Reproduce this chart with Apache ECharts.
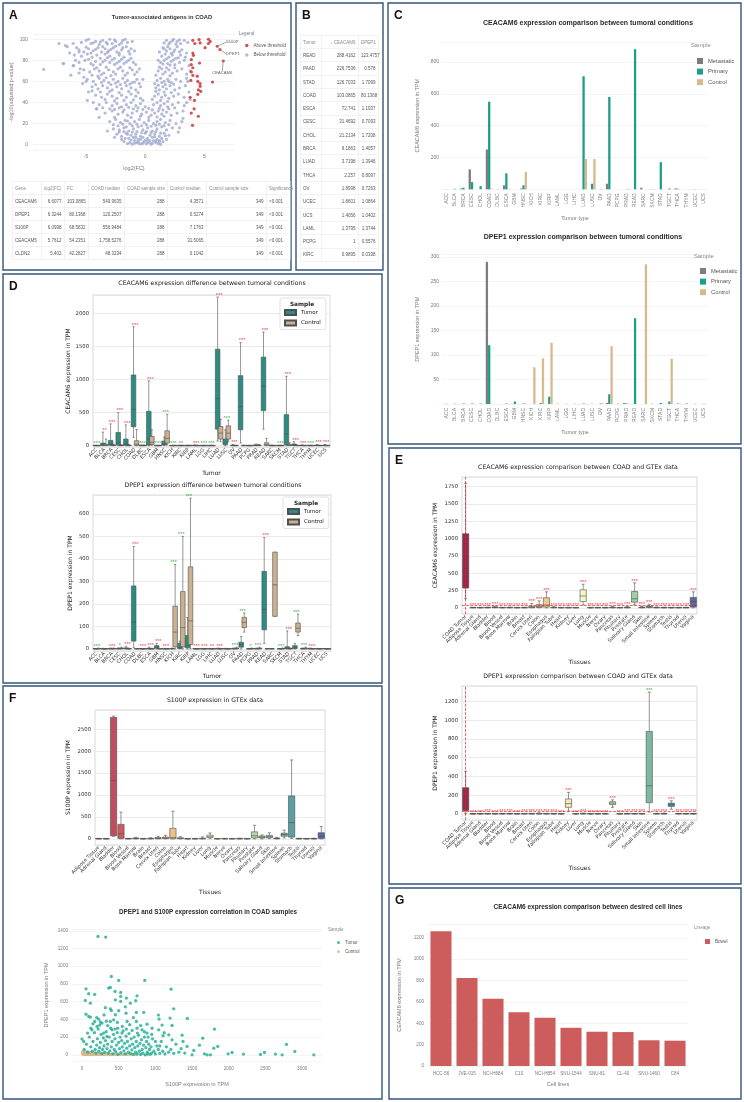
<!DOCTYPE html>
<html><head><meta charset="utf-8"><title>COAD antigens</title>
<script src="https://cdn.jsdelivr.net/npm/echarts@6/dist/echarts.min.js"></script>
<style>
html,body{margin:0;padding:0;background:#fff}
#wrap{position:relative;width:744px;height:1102px;overflow:hidden;background:#fff}
#chart{position:absolute;left:0;top:0;width:744px;height:1102px}
.tbl{position:absolute;border-collapse:collapse;font-family:"Liberation Sans",Arial,sans-serif;color:#555;table-layout:fixed;transform:scale(0.5);transform-origin:0 0;font-size:9px;z-index:5}
.tbl td,.tbl th{border:1px solid #e4e4e4;font-weight:normal;white-space:nowrap;overflow:visible;padding:0 5px;height:24px;box-sizing:border-box}
.tbl th{color:#8a8a8a;text-align:left}
.tbl td.n{text-align:right}
</style></head>
<body><div id="wrap"><div id="chart"></div><table id="tA" class="tbl"></table><table id="tB" class="tbl"></table></div>
<script>
// ---------------- DATA ----------------
const tableAHeader = ['Gene','log2(FC)','FC','COAD median','COAD sample size','Control median','Control sample size','Significance'];
const tableARows = [
 ['CEACAM6','6.6077','103.0865','549.9635','288','4.3571','349','<0.001'],
 ['DPEP1','6.3244','80.1368','120.2507','288','0.5274','349','<0.001'],
 ['S100P','6.0998','68.5832','556.9484','288','7.1763','349','<0.001'],
 ['CEACAM5','5.7612','54.2351','1,758.5276','288','31.5065','349','<0.001'],
 ['CLDN2','5.402','42.2827','48.3234','288','0.1042','349','<0.001']];
const tableBHeader = ['Tumor','\u2193 CEACAM6','DPEP1'];
const tableBRows = [
 ['READ','288.4162','123.4757'],['PAAD','226.7536','0.578'],['STAD','126.7033','1.7099'],['COAD','103.0865','80.1368'],
 ['ESCA','72.741','1.1937'],['CESC','31.4692','0.7093'],['CHOL','21.2134','1.7208'],['BRCA','9.1863','1.4057'],
 ['LUAD','3.7198','1.3946'],['THCA','2.257','0.8097'],['OV','1.8998','0.7263'],['UCEC','1.8601','1.0864'],
 ['UCS','1.4056','1.0402'],['LAML','1.3795','1.3744'],['PCPG','1','0.5576'],['KIRC','0.9895','0.0338']];

// Volcano (log2FC, -log10 adj p)
const volcanoBelow = [
[-5.4,97],[-5.0,99],[-4.6,96],[-4.2,98],[-3.9,95],[-3.6,99],[-3.3,97],[-3.0,100],[-2.8,96],[-2.5,98],[-2.2,95],[-1.9,99],[-1.5,97],[1.8,99],[2.1,97],[2.4,100],[2.7,98],[3.0,96],[3.3,99],[3.6,97],[-6.1,96],[-5.8,92],
[-5.6,90],[-5.2,88],[-4.8,91],[-4.4,89],[-4.0,92],[-3.7,88],[-3.4,91],[-3.1,89],[-2.7,92],[-2.4,88],[-2.0,90],[-1.6,93],[-1.2,91],[1.5,92],[1.8,89],[2.1,91],[2.4,88],[2.7,93],[3.1,90],[3.5,87],[-6.6,93],
[-5.4,84],[-4.9,86],[-4.5,83],[-4.1,85],[-3.8,82],[-3.4,86],[-3.0,84],[-2.6,82],[-2.2,85],[-1.8,83],[-1.3,86],[1.4,84],[1.7,86],[2.0,83],[2.3,85],[2.6,82],[3.0,85],[3.4,83],[-6.0,85],
[-5.6,78],[-5.1,80],[-4.6,77],[-4.2,79],[-3.8,76],[-3.4,80],[-3.0,78],[-2.6,76],[-2.2,79],[-1.8,77],[-1.4,80],[-1.0,78],[1.3,78],[1.6,80],[1.9,77],[2.2,79],[2.5,76],[2.9,78],[3.3,80],[3.7,75],[-6.9,77],[-6.1,75],
[-5.2,71],[-4.7,69],[-4.3,72],[-3.9,70],[-3.5,68],[-3.1,71],[-2.7,69],[-2.3,72],[-1.9,70],[-1.5,68],[-1.1,71],[-0.7,69],[1.1,70],[1.4,72],[1.7,69],[2.0,71],[2.3,68],[2.7,70],[3.1,72],[3.5,67],[-5.6,68],[-4.0,65],
[-4.9,62],[-4.4,60],[-3.9,63],[-3.5,61],[-3.1,59],[-2.7,62],[-2.3,60],[-1.9,63],[-1.5,61],[-1.1,59],[-0.7,62],[1.0,61],[1.3,63],[1.6,60],[1.9,62],[2.2,59],[2.6,62],[3.0,60],[3.5,63],[-5.3,58],
[-4.5,55],[-4.0,53],[-3.6,56],[-3.2,54],[-2.8,52],[-2.4,55],[-2.0,53],[-1.6,56],[-1.2,54],[-0.8,52],[-0.4,55],[0.9,54],[1.2,52],[1.5,55],[1.8,53],[2.1,56],[2.5,52],[2.9,54],[3.4,56],[-4.5,51],
[-4.2,47],[-3.7,45],[-3.2,48],[-2.8,46],[-2.4,44],[-2.0,47],[-1.6,45],[-1.2,48],[-0.8,46],[-0.4,44],[0.8,46],[1.1,48],[1.4,45],[1.7,47],[2.0,44],[2.4,46],[2.8,48],[3.3,45],[3.8,43],
[-3.9,38],[-3.3,40],[-2.8,37],[-2.4,39],[-2.0,36],[-1.6,38],[-1.2,40],[-0.8,37],[-0.4,39],[0.0,36],[0.7,38],[1.0,40],[1.3,37],[1.6,39],[1.9,36],[2.3,38],[2.8,40],[3.3,37],[-4.1,34],
[-3.4,30],[-2.8,32],[-2.3,29],[-1.9,31],[-1.5,28],[-1.1,30],[-0.7,32],[-0.3,29],[0.1,31],[0.5,28],[0.8,30],[1.1,32],[1.4,29],[1.8,31],[2.2,28],[2.7,30],[3.2,32],[-2.6,26],
[-3.0,22],[-2.5,24],[-2.1,21],[-1.7,23],[-1.3,20],[-0.9,22],[-0.5,24],[-0.1,21],[0.3,23],[0.7,20],[1.0,22],[1.3,24],[1.7,21],[2.1,23],[2.6,20],[3.1,22],[-2.3,18],[-1.6,17],
[-2.7,15],[-2.2,14],[-1.8,16],[-1.4,13],[-1.0,15],[-0.6,17],[-0.2,14],[0.2,16],[0.6,13],[1.0,15],[1.4,17],[1.8,14],[2.3,16],[-3.2,13],[2.8,12],
[-2.4,10],[-2.0,8],[-1.6,11],[-1.2,9],[-0.8,10],[-0.4,8],[0.0,11],[0.4,9],[0.8,10],[1.2,8],[1.6,11],[2.0,9],[-1.4,6],[-1.0,7],[-0.6,5],[-0.2,7],[0.2,6],[0.6,7],[1.0,5],[1.4,6],
[-1.8,3],[-1.3,2],[-0.9,4],[-0.5,1],[-0.1,3],[0.3,2],[0.7,4],[1.1,1],[1.5,3],[-1.1,0.5],[-0.3,0.8],[0.5,0.5],[1.3,0.3],[-0.7,2],[0.1,1],[0.9,2],
[-8.6,71.5],[-6.76,94],[-6.96,77],[-6.06,75],[-5.6,88],[-4.14,34],[-4.9,42],[-5.2,64],
[-4.8,100],[-4.4,96.5],[-3.8,97.5],[-3.2,95.5],[-2.6,99.5],[-2.0,96.5],[-1.7,100],[-1.1,98],[2.0,95.5],[2.3,98.5],[2.6,95.5],[2.9,99.5],[1.6,96.5],
[-5.0,92.5],[-4.6,87],[-4.2,90.5],[-3.6,93],[-3.2,87.5],[-2.9,90.5],[-2.5,93.5],[-2.2,87],[-1.9,92],[-1.4,88.5],[-0.9,89],[1.2,88],[1.6,91],[1.9,93],[2.2,86.5],[2.5,90],[2.9,88],
[-4.8,81],[-4.4,75.5],[-3.6,78.5],[-3.2,82.5],[-2.8,80.5],[-2.4,77.5],[-2.0,81],[-1.6,78.5],[-1.2,82],[-0.8,76],[1.1,80],[1.5,76.5],[1.8,81.5],[2.1,75.5],[2.4,80.5],[2.8,82.5],
[-4.5,66],[-4.1,73],[-3.7,66.5],[-3.3,73.5],[-2.9,65.5],[-2.5,67],[-2.1,73.5],[-1.7,66],[-1.3,73],[-0.9,66.5],[-0.5,72],[0.9,66],[1.2,73.5],[1.5,67],[1.8,73],[2.1,65.5],[2.5,73],
[-4.2,57],[-3.7,59],[-3.3,63.5],[-2.9,57],[-2.5,58.5],[-2.1,57],[-1.7,59],[-1.3,57.5],[-0.9,59.5],[-0.5,58],[-0.2,62],[0.8,58],[1.1,56.5],[1.4,59],[1.7,57],[2.0,60],[2.4,57.5],
[-3.8,50],[-3.4,43],[-3.0,50.5],[-2.6,41.5],[-2.2,49.5],[-1.8,42],[-1.4,50.5],[-1.0,42.5],[-0.6,49.5],[-0.2,42],[0.6,43],[0.9,50.5],[1.3,42],[1.6,50],[1.9,41],[2.2,49.5],
[-3.6,35],[-3.0,34],[-2.6,33.5],[-2.2,35],[-1.8,33],[-1.4,35.5],[-1.0,34],[-0.6,35],[-0.2,33.5],[0.3,34.5],[0.6,33],[1.2,34.5],[1.5,33],[2.0,34],[2.5,35],[-1.2,26],[-0.4,27],[0.3,26],[1.0,26.5],[1.6,27],
[-2.7,19],[-1.9,19.5],[-1.5,22.5],[-1.1,18],[-0.7,19.5],[-0.3,18],[0.1,19],[0.5,17.5],[0.9,18.5],[1.2,19.5],[1.6,18],[2.0,19],
[-2.2,12],[-1.8,12.5],[-1.5,10],[-1.1,12],[-0.7,12.5],[-0.3,11.5],[0.1,12.5],[0.5,11.5],[0.9,12.5],[1.3,11],[1.7,8.5],[-1.7,6],[-1.2,4.5],[-0.8,7],[-0.4,5],[0,4.5],[0.4,4],[0.8,7.5],[1.2,4],[-1.5,1],[-0.9,1.5],[-0.6,3],[-0.2,1.5],[0.2,3.5],[0.6,1.5],[0.9,3.5],[1.2,2.5],[-2.0,5],[1.8,5],[-2.6,7],
[-6.4,87],[-5.9,80],[-5.5,72],[-5.0,60],[-4.8,50],[-4.4,40],[-3.9,26],[3.6,60],[3.7,50],[3.5,40],[3.2,25],[2.9,16],[3.8,70],[-7.3,96],[-6.3,66]];
const volcanoAbove = [
[4.03,99],[4.56,99.7],[4.65,96.5],[5.35,100],[5.35,96],[5.07,92],[4.2,96],[4.03,87],[4.08,84.8],[3.9,80.7],[4.6,77.5],[3.9,76],[4.03,73],[3.9,69],[4.03,65.8],[4.4,65],
[3.86,61],[4.45,60],[5.7,59.5],[4.65,58],[4.65,55.4],[4.5,52],[4.7,50.6],[4.45,47.8],[4.17,42],[4.14,34],[4.5,27],[3.9,30],[4.0,18.4],[3.8,45],[5.5,98]];
const volcanoLabeled = [['S100P',6.0998,93.4],['DPEP1',6.3244,90.2],['CEACAM6',6.6077,79.4]];

// Panel C / D tumour types
const tumors = ['ACC','BLCA','BRCA','CESC','CHOL','COAD','DLBC','ESCA','GBM','HNSC','KICH','KIRC','KIRP','LAML','LGG','LIHC','LUAD','LUSC','OV','PAAD','PCPG','PRAD','READ','SARC','SKCM','STAD','TGCT','THCA','THYM','UCEC','UCS'];
const cCeacamMetastatic = [0,0,5,125,0,250,0,25,0,5,0,0,0,0,0,0,0,0,0,35,0,0,0,10,1,0,0,6,0,0,0];
const cCeacamPrimary    = [0.5,3,10,45,20,550,1,100,0,25,0,0,0,0,0,0,710,35,2,580,0,1,880,0,1,170,5,3,0,1,0.5];
const cCeacamControl    = [0,0,0,0,0,4,0,3,0,110,0,0,0,0,0,0,190,190,0,0,0,3,0,0,0,0,0,0,0,0,0];
const cDpepMetastatic   = [0,0,0,0,0,290,0,0,0,0,0,0,0,0,0,0,0,0,0,2,0,2,0,0,0,0,0,0,0,0,0];
const cDpepPrimary      = [0.5,0.5,1,1,1,120,0,1,5,1,0,2,15,0.5,0.5,0.5,1,0.5,1,20,0.5,1,175,0,0.5,2,5,1,1,0.5,0.5];
const cDpepControl      = [0,0,0.5,0.5,0,0.5,0,0.5,0,0.5,75,93,125,0,0,0,0.5,0,1,118,0,0.5,0,285,0,0.5,92,0.5,0,0,0];

// Panel D boxplots [min, q1, median, q3, max]
const dCeacamTumor = [[0,0.5,1,2,5],[0,3,12,40,205],[0,8,25,80,330],[0,12,45,200,500],[0,6,30,100,315],[125,285,550,1070,1800],[0,1,2,4,8],[0,10,100,520,980],[0,0.3,1,2,4],[0,10,25,70,130],
 [0,0.3,0.5,1,2],[0,0.5,1,2,4],[0,0.5,1,3,6],[0,1,2,5,12],[0,0.2,0.5,1,2],[0,0.3,0.8,2,4],[70,250,710,1460,2250],[0,15,40,100,240],[0,1,3,8,18],[40,240,590,1060,1560],
 [0,0.2,0.5,1,2],[0,2,5,12,25],[250,530,900,1340,1720],[0,0.5,1,3,8],[0,0.3,1,2,5],[0,15,180,470,1050],[0,3,10,25,60],[0,1,2,5,12],[0,0.5,1,2,5],[0,1,3,8,18],[0,1,3,8,18]];
const dCeacamControl = [[0,0.3,0.5,1,2],[0,3,8,20,100],[0,2,5,10,22],[0,1,3,8,15],[0,1,3,8,15],[0,5,20,75,245],[0,1,2,5,10],[5,20,50,140,240],[0,0.5,1,2,4],[10,40,110,225,475],
 [0,0.5,1,2,4],[0,0.5,1,2,4],[0,0.5,1,2,4],[0,0.2,0.5,1,2],[0,0.3,0.6,1,2],[0,0.3,0.6,1,2],[60,100,190,290,400],[60,100,190,300,385],[0,0.5,1,2,4],[0,0.5,1,3,6],
 [0,0.3,0.6,1,2],[0,2,5,10,20],[0,5,15,45,110],[0,0.5,1,2,4],[0,0.5,1,2,4],[0,3,8,20,45],[0,1,2,4,8],[0,0.5,1,2,4],[0,0.5,1,2,4],[0,0.5,1,2,4],[0,0.5,1,2,4]];
const dCeacamSig = ['***','**','***','***','***','***','***','***','***','***','***','**','','***','***','***','***','***','***','***','','','***','','***','***','***','***','***','***','***'];
const dCeacamSigColor = ['g','r','r','r','r','r','g','r','g','g','g','g','','r','g','g','r','g','r','r','','','r','','g','r','r','r','g','r','r'];

const dDpepTumor = [[0,0.2,0.5,1,2],[0,0.3,0.6,1.2,3],[0,0.5,1,2,4],[0,0.5,1,2,5],[0,1,2,5,12],[5,35,120,280,455],[0,0.2,0.4,0.8,2],[0,0.5,1,3,8],[0,3,8,15,25],[0,0.3,0.6,1.2,3],
 [0,0.5,1,2,4],[0,2,6,25,35],[0,5,15,60,140],[0,0.2,0.4,0.8,2],[0,0.1,0.3,0.6,1.5],[0,0.2,0.5,1,2],[0,0.5,1,2,4],[0,0.3,0.6,1.2,3],[0,0.5,1,2,4],[0,8,20,30,55],
 [0,0.2,0.5,1,2],[0,0.5,1,2,4],[25,85,175,345,495],[0,0.3,0.6,1,2],[0,0.3,0.6,1,2],[0,1,3,10,80],[0,2,5,15,25],[0,0.5,1,2,4],[0,0.5,1,2,4],[0,0.3,0.6,1,2],[0,0.3,0.6,1,2]];
const dDpepControl = [[0,0.5,1,2,4],[0,0.2,0.4,0.8,2],[0,0.5,1,2,4],[0,1,2,4,8],[0,0.3,0.6,1.2,3],[0,0.2,0.5,1,2],[0,0.2,0.4,0.8,2],[0,0.3,0.6,1.2,3],[0,0.2,0.4,0.8,2],[0,0.2,0.4,0.8,2],
 [0,10,75,190,375],[0,10,95,255,500],[0,20,125,365,670],[0,0.2,0.4,0.8,2],[0,0.2,0.4,0.8,2],[0,0.2,0.4,0.8,2],[0,0.2,0.4,0.8,2],[0,0.2,0.4,0.8,2],[0,1,2,4,8],[75,95,118,140,160],
 [0,0.5,1,2,4],[0,1,2,4,8],[0,0.2,0.5,1,2],[145,145,285,430,430],[0,0.5,1,2,4],[0,0.5,1,2,4],[60,75,92,115,155],[0,1,2,4,8],[0,0.2,0.4,0.8,2],[0,0.2,0.4,0.8,2],[0,0.2,0.4,0.8,2]];
const dDpepSig = ['***','','***','*','***','***','***','***','***','***','***','***','***','***','***','**','***','','***','***','*','***','***','','***','***','***','***','***','',''];
const dDpepSigColor = ['g','','r','g','r','r','r','r','r','r','g','g','g','r','r','r','r','','g','g','g','g','r','','g','r','g','g','r','',''];

// Panel E / F tissues
const tissuesE = ['COAD Tumor','Adipose Tissue','Adrenal Gland','Bladder','Blood','Blood Vessel','Bone Marrow','Brain','Breast','Cervix Uteri','Colon','Esophagus','Fallopian Tube','Heart','Kidney','Liver','Lung','Muscle','Nerve','Ovary','Pancreas','Pituitary','Prostate','Salivary Gland','Skin','Small Intestine','Spleen','Stomach','Testis','Thyroid','Uterus','Vagina'];
const eCeacam = [[130,285,550,1070,1800],[0,0.5,1,2,4],[0,0.3,0.5,1,2],[0,1,2,4,8],[0,2,6,12,25],[0,0.5,1,2,4],[0,1,2,4,8],[0,0.2,0.5,1,2],[0,0.5,1,3,6],[0,2,8,20,60],
 [0,5,15,45,100],[0,10,40,145,230],[0,1,3,8,15],[0,0.2,0.5,1,2],[0,0.3,0.5,1,2],[0,0.2,0.5,1,2],[40,90,170,260,340],[0,0.1,0.3,0.6,1],[0,0.3,0.6,1.2,3],[0,0.2,0.4,0.8,2],
 [0,1,3,8,20],[0,0.3,0.6,1,2],[0,1,3,8,18],[45,80,130,235,360],[0,1,3,8,18],[0,5,12,25,50],[0,1,2,5,10],[0,0.5,1,3,6],[0,0.3,0.6,1,2],[0,0.3,0.6,1,2],[0,0.5,1,2,4],[0,10,90,150,230]];
const eCeacamSig = ['','***','***','***','***','***','***','***','***','***','***','***','***','***','***','***','***','***','***','***','***','***','***','***','***','***','***','***','***','***','***','***'];
const eCeacamThreshold = 35;
const eDpep = [[5,35,120,280,455],[0,0.3,0.6,1,2],[0,0.3,0.6,1,2],[0,0.5,1,2,4],[0,0.3,0.6,1,2],[0,0.5,1,2,4],[0,0.5,1,3,6],[0,0.2,0.4,0.8,2],[0,0.5,1,2,4],[0,0.5,1,2,4],
 [0,1,2,5,10],[0,0.5,1,2,5],[0,0.5,1,2,4],[0,0.3,0.6,1,2],[30,70,110,160,230],[0,0.3,0.6,1,2],[0,1,2,4,8],[0,0.2,0.4,0.8,2],[0,0.3,0.6,1,2],[0,0.3,0.6,1,2],
 [70,100,115,130,150],[0,0.3,0.6,1,2],[0,0.5,1,2,4],[0,0.5,1,2,4],[0,0.5,1,2,4],[20,120,300,880,1300],[0,0.5,1,2,4],[0,1,2,4,8],[50,80,100,115,140],[0,0.5,1,2,4],[0,0.5,1,2,4],[0,0.5,1,2,4]];
const eDpepSig = ['','***','***','***','***','***','***','***','***','***','***','***','***','***','***','***','***','***','***','***','***','***','***','***','***','***','***','***','***','***','***','***'];
const eDpepSigColor = ['','r','r','r','r','r','r','r','r','r','r','r','r','r','r','r','r','r','r','r','r','r','r','r','r','g','r','r','r','r','r','r'];
const eDpepThreshold = 30;

const tissuesF = tissuesE.slice(1);
const fS100p = [[0,1,2,4,8],[0,0.5,1,2,4],[60,70,1330,2770,2800],[0,10,120,330,610],[0,1,2,5,10],[0,3,8,18,35],[0,0.5,1,2,4],[0,2,5,12,25],[0,5,12,30,60],[0,8,20,40,80],
 [0,5,30,240,630],[0,5,12,25,50],[0,0.3,0.5,1,2],[0,0.5,1,2,5],[0,2,5,15,45],[5,30,50,85,135],[0,0.3,0.5,1,2],[0,1,2,5,10],[0,0.5,1,2,5],[0,1,3,8,15],
 [0,0.5,1,3,6],[0,20,70,160,310],[0,20,40,65,90],[5,25,50,80,140],[0,3,8,18,35],[20,60,100,130,200],[10,40,370,980,1800],[0,1,3,6,12],[0,0.5,1,3,6],[0,1,3,8,15],[0,10,60,140,280]];

// Panel F scatter (S100P TPM, DPEP1 TPM)
const scatterTumor = [
[218,1336],[323,1329],[400,884],[500,839],[855,839],[55,745],[1214,741],[91,689],[173,681],[386,760],[364,753],[527,704],[527,659],[450,715],[750,666],[605,640],[659,583],[732,610],[455,621],[527,602],[45,613],[114,583],[318,531],[386,519],[55,459],[91,433],[114,425],[741,478],[841,478],[591,542],[455,452],[500,497],[1041,448],[1050,403],[1250,519],[1436,410],[1200,414],
[173,376],[227,403],[273,358],[332,380],[386,376],[432,395],[482,365],[614,376],[741,376],[886,346],[1091,335],[1227,331],[0,177],[23,150],[77,245],[136,282],[205,320],[241,335],[295,245],[341,207],[409,282],[486,301],[545,245],[605,290],[682,275],[755,245],[818,282],[886,245],[955,301],
[1045,282],[1105,215],[1182,226],[1227,169],[1364,222],[1377,150],[1432,94],[1600,109],[1645,188],[1795,75],[1805,290],[1850,94],[1991,11],[2045,26],[2200,8],[2432,4],[2486,26],[2636,8],[2727,0],[2786,117],[2900,38],[3159,0],[1500,0],[1523,49],[1668,11],[1705,0],[1750,0],
[30,60],[60,120],[80,30],[100,200],[120,90],[140,40],[150,150],[170,250],[180,60],[190,20],[200,110],[210,180],[220,290],[230,40],[240,80],[250,140],[260,230],[270,15],[280,60],[290,190],[300,100],[310,30],[320,160],[330,260],[340,70],[350,120],[360,20],[370,200],[380,45],[390,300],
[400,90],[410,150],[420,10],[430,230],[440,60],[450,180],[460,35],[470,110],[480,250],[490,5],[500,140],[510,70],[520,200],[530,25],[540,160],[550,90],[560,270],[570,45],[580,130],[590,10],[600,210],[610,75],[620,150],[630,30],[640,240],[650,100],[660,15],[670,180],[680,55],[690,120],
[700,5],[710,200],[720,80],[730,30],[740,150],[750,10],[760,100],[770,220],[780,40],[790,130],[800,5],[810,170],[820,60],[830,20],[840,110],[850,200],[860,0],[870,80],[880,150],[890,30],[900,10],[910,120],[920,60],[930,5],[940,90],[950,20],[960,180],[980,40],[1000,10],[1020,100],
[1040,60],[1060,15],[1080,150],[1100,40],[1130,10],[1150,90],[1180,30],[1210,60],[1250,15],[1280,120],[1320,30],[1350,70],[1400,20],[150,350],[250,370],[350,330],[450,290],[550,320],[650,340],[750,300],[850,260],[950,230],[1000,150],[120,300],[200,420],[300,450],[400,500],[600,470],[700,420],[800,330],[900,200],[1060,100],[1120,250]];
const scatterControl = [
[5,20],[10,5],[15,40],[20,10],[25,2],[30,25],[35,8],[40,15],[45,0],[50,30],[55,5],[60,12],[70,3],[75,22],[80,8],[90,1],[95,15],[100,6],[110,28],[115,2],[120,10],[130,4],[140,18],[150,1],[160,8],[170,12],[180,3],[190,20],[200,6],[210,2],[220,14],[230,5],[240,9],[250,1],[260,16],[270,4],[280,7],[300,2],
[320,11],[340,3],[360,6],[380,1],[400,9],[420,2],[450,5],[480,1],[520,4],[560,2],[600,6],[650,1],[700,3],[750,1],[800,2],[880,1],[8,35],[18,18],[28,45],[38,3],[48,10],[65,38],[85,18],[105,2],[125,25],[145,6],[165,30],[185,9],[205,11],[235,20],[265,3],[290,12],[310,5],[330,18],[350,1],[370,8],[390,4],[430,12],[470,3],[510,8],[540,1],[580,5],[620,2],[680,4],[720,0]];

// Panel G
const cellLines = ['HCC-56','JVE-015','NCI-H684','C10','NCI-H854','SNU-1544','SNU-81','CL-40','SNU-1460','C84'];
const cellCeacam6 = [1262,824,630,504,451,358,321,318,241,237];

// ---------------- TABLES ----------------
function buildTable(id, header, rows, widths, left, top, numCols){
  const t = document.getElementById(id);
  t.style.left = left+'px'; t.style.top = top+'px';
  let html = '<colgroup>' + widths.map(w=>'<col style="width:'+(w*2)+'px">').join('') + '</colgroup>';
  html += '<tr>' + header.map((h,i)=>'<th'+(numCols.includes(i)&&id==='tB'?' style="text-align:right"':'')+'>'+h+'</th>').join('') + '</tr>';
  rows.forEach(r=>{ html += '<tr>' + r.map((c,i)=>'<td'+(numCols.includes(i)?' class="n"':'')+'>'+c.replace('<','&lt;')+'</td>').join('') + '</tr>'; });
  t.innerHTML = html;
  t.style.width = (widths.reduce((a,b)=>a+b,0)*2)+'px';
}
buildTable('tA', tableAHeader, tableARows, [29,23,24,36,43,39,60,24], 12, 181, [1,2,3,4,5,6]);
buildTable('tB', tableBHeader, tableBRows, [21,37,20], 300, 35, [1,2]);
document.querySelectorAll('#tB td,#tB th').forEach(c=>{c.style.height='26.6px';});
document.querySelectorAll('#tA td,#tA th').forEach(c=>{c.style.height='26px';});

// ---------------- HELPERS ----------------
const SPECTRAL = ['#9e0142','#d53e4f','#f46d43','#fdae61','#fee08b','#ffffbf','#e6f598','#abdda4','#66c2a5','#3288bd','#5e4fa2'];
function hex2rgb(h){return [parseInt(h.slice(1,3),16),parseInt(h.slice(3,5),16),parseInt(h.slice(5,7),16)];}
function spectralAt(t){const p=t*10;const i=Math.min(9,Math.floor(p));const f=p-i;const a=hex2rgb(SPECTRAL[i]),b=hex2rgb(SPECTRAL[i+1]);return a.map((v,k)=>v+(b[k]-v)*f);}
function desat(rgb,s){
  let [r,g,b]=rgb.map(v=>v/255);const mx=Math.max(r,g,b),mn=Math.min(r,g,b);const l=(mx+mn)/2;let h=0,sat=0;
  if(mx!==mn){const d=mx-mn;sat=l>0.5?d/(2-mx-mn):d/(mx+mn);if(mx===r)h=(g-b)/d+(g<b?6:0);else if(mx===g)h=(b-r)/d+2;else h=(r-g)/d+4;h/=6;}
  sat*=s;
  const hue2=(p,q,t)=>{if(t<0)t+=1;if(t>1)t-=1;if(t<1/6)return p+(q-p)*6*t;if(t<1/2)return q;if(t<2/3)return p+(q-p)*(2/3-t)*6;return p;};
  let R,G,B;if(sat===0){R=G=B=l;}else{const q=l<0.5?l*(1+sat):l+sat-l*sat;const p=2*l-q;R=hue2(p,q,h+1/3);G=hue2(p,q,h);B=hue2(p,q,h-1/3);}
  return 'rgb('+[R,G,B].map(v=>Math.round(v*255)).join(',')+')';
}
function palette(n){const out=[];for(let i=0;i<n;i++)out.push(desat(spectralAt((i+1)/(n+1)),0.75));return out;}

function boxRenderer(offset, width, colors, edge, lw){
  return function(params, api){
    const ci = api.value(0);
    const band = api.size([1,0])[0];
    const cx = api.coord([ci,0])[0] + offset*band;
    const hw = width*band/2;
    const Y = k => api.coord([ci, api.value(k)])[1];
    const ymin=Y(1), yq1=Y(2), ymed=Y(3), yq3=Y(4), ymax=Y(5);
    const fill = Array.isArray(colors) ? colors[params.dataIndex] : colors;
    const ls = {stroke: edge, lineWidth: lw};
    return {type:'group', children:[
      {type:'line', shape:{x1:cx,y1:yq3,x2:cx,y2:ymax}, style:ls},
      {type:'line', shape:{x1:cx,y1:yq1,x2:cx,y2:ymin}, style:ls},
      {type:'line', shape:{x1:cx-hw/2,y1:ymax,x2:cx+hw/2,y2:ymax}, style:ls},
      {type:'line', shape:{x1:cx-hw/2,y1:ymin,x2:cx+hw/2,y2:ymin}, style:ls},
      {type:'rect', shape:{x:cx-hw,y:Math.min(yq3,yq1-0.4),width:2*hw,height:Math.max(yq1-yq3,0.4)}, style:{fill:fill, stroke:edge, lineWidth:lw}},
      {type:'line', shape:{x1:cx-hw,y1:ymed,x2:cx+hw,y2:ymed}, style:ls}
    ]};
  };
}
function boxSeries(name, gi, boxes, offset, width, colors, edge){
  return {type:'custom', name:name, xAxisIndex:gi, yAxisIndex:gi, clip:false,
    itemStyle:{color: Array.isArray(colors)?colors[0]:colors, borderColor:edge, borderWidth:0.6},
    renderItem: boxRenderer(offset, width, colors, edge, 0.6),
    encode:{x:0, y:[1,2,3,4,5]},
    data: boxes.map((b,i)=>[i].concat(b)), z:3};
}
function sigSeries(gi, boxA, boxB, sig, sigCol){
  const data=[];
  sig.forEach((s,i)=>{ if(!s) return; const v=Math.max(boxA[i][4], boxB? boxB[i][4] : 0);
    data.push({value:[i,v], label:{formatter:s, color: sigCol[i]==='g' ? '#2ca02c' : '#e8262b'}}); });
  return {type:'scatter', name:'sig'+gi, xAxisIndex:gi, yAxisIndex:gi, symbolSize:0, silent:true, data:data,
    label:{show:true, position:'top', distance:0.3, fontSize:4.2, fontFamily:'DejaVu Sans', fontWeight:'bold'}, z:6};
}

// ---------------- STYLES ----------------
const PF = 'Liberation Sans';
const SF = 'DejaVu Sans';
const plain = v => String(v);
const pTick = {fontSize:5, color:'#7a7a7a', fontFamily:PF, formatter:plain};
const pName = {fontSize:5.5, color:'#7a7a7a', fontFamily:PF};
const sTick = {fontSize:5.3, color:'#333', fontFamily:SF};
const sName = {fontSize:6, color:'#222', fontFamily:SF};
const pGrid = {show:true, lineStyle:{color:'#ececec', width:0.6}};
const sGrid = {show:true, lineStyle:{color:'#e2e2e2', width:0.7}};
const noLine = {show:false};

function pValueAxis(gi, min, max, step, name, gap, margin, fs){
  return {type:'value', gridIndex:gi, min:min, max:max, minInterval:step, maxInterval:step,
    axisLine:noLine, axisTick:noLine, splitLine:pGrid,
    axisLabel:Object.assign({}, pTick, {margin:margin, showMinLabel:false, showMaxLabel:false, fontSize:fs||5}),
    name:name, nameLocation:'middle', nameGap:gap, nameTextStyle:pName};
}
function sValueAxis(gi, min, max, step, name, gap){
  return {type:'value', gridIndex:gi, min:min, max:max, minInterval:step, maxInterval:step,
    axisLine:noLine, axisTick:noLine, splitLine:sGrid,
    axisLabel:Object.assign({margin:4, showMinLabel:false, showMaxLabel:false, formatter:plain}, sTick),
    name:name, nameLocation:'middle', nameGap:gap, nameTextStyle:sName};
}
function sCatAxis(gi, cats, name, gap, fs){
  return {type:'category', gridIndex:gi, data:cats, axisLine:noLine, axisTick:noLine, splitLine:{show:false},
    axisLabel:Object.assign({}, sTick, {rotate:45, interval:0, margin:2, fontSize:fs}),
    name:name, nameLocation:'middle', nameGap:gap, nameTextStyle:sName};
}
function pCatAxis(gi, cats, name, gap){
  return {type:'category', gridIndex:gi, data:cats, axisLine:noLine, axisTick:noLine,
    axisLabel:{fontSize:5, color:'#7a7a7a', fontFamily:PF, rotate:90, interval:0, margin:4},
    name:name, nameLocation:'middle', nameGap:gap, nameTextStyle:pName};
}

const COL = {met:'#7d7d7d', pri:'#1b9e8a', ctl:'#d8b98e', dT:'#2a8d84', dC:'#cbb18f', edge:'#4f4f4f',
  fT:'#1eab95', fC:'#d8b88b', red:'#c62828', blue:'#a1aad0', bar:'#cd5c5c'};
const palE = palette(tissuesE.length);
const palF = palette(tissuesF.length);

// ---------------- GRAPHIC (frames, letters, titles) ----------------
const panels = [[3,3,288,267,'A'],[296,3,87,267,'B'],[388,3,353,441,'C'],[3,274,379,409,'D'],[389,448,352,436,'E'],[3,686,379,413,'F'],[389,888,352,211,'G']];
const graphic = [];
panels.forEach(p=>{
  graphic.push({type:'rect', shape:{x:p[0],y:p[1],width:p[2],height:p[3]}, style:{fill:'none', stroke:'#34557a', lineWidth:1.4}, z:1});
  graphic.push({type:'text', x:p[0]+6, y:p[1]+7, style:{text:p[4], font:'bold 12px "Liberation Sans"', fill:'#111'}, z:10});
});
function title(x,y,text,font,color){ graphic.push({type:'text', x:x, y:y, style:{text:text, font:font, fill:color||'#222', textAlign:'center', textVerticalAlign:'middle'}, z:10}); }
function ltext(x,y,text,font,color){ graphic.push({type:'text', x:x, y:y, style:{text:text, font:font, fill:color||'#666', textAlign:'left', textVerticalAlign:'middle'}, z:12}); }
title(162,17,'Tumor-associated antigens in COAD','bold 5.8px "Liberation Sans"','#333');
title(588,23,'CEACAM6 expression comparison between tumoral conditions','bold 7px "Liberation Sans"','#2a2a2a');
title(583,237,'DPEP1 expression comparison between tumoral conditions','bold 7px "Liberation Sans"','#2a2a2a');
title(212,283,'CEACAM6 expression difference between tumoral conditions','6.2px "DejaVu Sans"','#222');
title(213,485,'DPEP1 expression difference between tumoral conditions','6.2px "DejaVu Sans"','#222');
title(578,467,'CEACAM6 expression comparison between COAD and GTEx data','6.2px "DejaVu Sans"','#222');
title(578,676,'DPEP1 expression comparison between COAD and GTEx data','6.2px "DejaVu Sans"','#222');
title(215,700,'S100P expression in GTEx data','6.2px "DejaVu Sans"','#222');
title(208,912,'DPEP1 and S100P expression correlation in COAD samples','bold 6.3px "Liberation Sans"','#2a2a2a');
title(588,907,'CEACAM6 expression comparison between desired cell lines','bold 6.5px "Liberation Sans"','#2a2a2a');
ltext(239,34,'Legend','4.6px "Liberation Sans"','#777');
ltext(691,45,'Sample','5.8px "Liberation Sans"','#888');
ltext(694,256,'Sample','5.8px "Liberation Sans"','#888');
ltext(328,930,'Sample','4.6px "Liberation Sans"','#888');
ltext(694,928,'Lineage','4.6px "Liberation Sans"','#888');
graphic.push({type:'text', x:302, y:304, style:{text:'Sample', font:'bold 5.8px "DejaVu Sans"', fill:'#222', textAlign:'center', textVerticalAlign:'middle'}, z:12});
graphic.push({type:'text', x:306, y:503, style:{text:'Sample', font:'bold 5.8px "DejaVu Sans"', fill:'#222', textAlign:'center', textVerticalAlign:'middle'}, z:12});

// ---------------- OPTION ----------------
const grids = [
  {left:33, top:34, width:202, height:116},      // 0 volcano
  {left:442, top:42, width:266, height:147.3},   // 1 C top
  {left:442, top:254.5, width:266, height:149.5},// 2 C bottom
  {left:93, top:295, width:237, height:152, show:true, borderColor:'#cfcfcf', borderWidth:0.8}, // 3 D top
  {left:93, top:495, width:238, height:156, show:true, borderColor:'#cfcfcf', borderWidth:0.8}, // 4 D bottom
  {left:462, top:477, width:235, height:137, show:true, borderColor:'#cfcfcf', borderWidth:0.8}, // 5 E top
  {left:462, top:686, width:235, height:134, show:true, borderColor:'#cfcfcf', borderWidth:0.8}, // 6 E bottom
  {left:95, top:710, width:230, height:135, show:true, borderColor:'#cfcfcf', borderWidth:0.8},  // 7 F box
  {left:72, top:929, width:250, height:132},     // 8 F scatter
  {left:428, top:924, width:260, height:142}     // 9 G
];
const xAxes = [
  Object.assign(pValueAxis(0,-9.5,7.6,5,'log2(FC)',15,4.5), {splitLine:{show:false}}),
  pCatAxis(1, tumors, 'Tumor type', 26),
  pCatAxis(2, tumors, 'Tumor type', 25),
  sCatAxis(3, tumors, 'Tumor', 23, 5),
  sCatAxis(4, tumors, 'Tumor', 22, 5),
  sCatAxis(5, tissuesE, 'Tissues', 45, 5),
  sCatAxis(6, tissuesE, 'Tissues', 45, 5),
  sCatAxis(7, tissuesF, 'Tissues', 44, 5),
  Object.assign(pValueAxis(8,-136,3270,500,'S100P expression in TPM',20,5,4.6), {splitLine:{show:false}}),
  {type:'category', gridIndex:9, data:cellLines, axisLine:noLine, axisTick:noLine,
    axisLabel:{fontSize:4.6, color:'#7a7a7a', fontFamily:PF, margin:5, interval:0},
    name:'Cell lines', nameLocation:'middle', nameGap:15.5, nameTextStyle:pName}
];
const yAxes = [
  pValueAxis(0,-5,105,20,'-log10(adjusted p-value)',18.5,5),
  pValueAxis(1,0,925,200,'CEACAM6 expression in TPM',22,3),
  pValueAxis(2,0,305,50,'DPEP1 expression in TPM',22,3),
  sValueAxis(3,-20,2280,500,'CEACAM6 expression in TPM',22),
  sValueAxis(4,-9,684,100,'DPEP1 expression in TPM',20),
  sValueAxis(5,-90,1890,250,'CEACAM6 expression in TPM',24),
  sValueAxis(6,-65,1365,200,'DPEP1 expression in TPM',24),
  sValueAxis(7,-140,2940,500,'S100P expression in TPM',24),
  pValueAxis(8,-70,1420,200,'DPEP1 expression in TPM',22.5,4,4.6),
  Object.assign(pValueAxis(9,0,1330,200,'CEACAM6 expression in TPM',25.5,4,4.6), {})
];
yAxes[9].axisLabel.showMinLabel = true;

const labelOffsets = [[15,-4],[13,4],[-1,12]];
const series = [
  // A volcano
  {type:'scatter', name:'Below threshold', xAxisIndex:0, yAxisIndex:0, symbolSize:3.2, itemStyle:{color:COL.blue}, data:volcanoBelow, z:2},
  {type:'scatter', name:'Above threshold', xAxisIndex:0, yAxisIndex:0, symbolSize:3.2, itemStyle:{color:COL.red}, data:volcanoAbove, z:3},
  {type:'scatter', name:'Above threshold|lab', xAxisIndex:0, yAxisIndex:0, symbolSize:3.2, itemStyle:{color:COL.red}, z:4,
    data: volcanoLabeled.map(d=>({name:d[0], value:[d[1],d[2]]})),
    label:{show:true, formatter:'{b}', fontSize:4.2, color:'#333', fontFamily:PF},
    labelLayout:function(p){const o=labelOffsets[p.dataIndex];return {dx:o[0], dy:o[1]};},
    labelLine:{show:true, smooth:false, length2:0, lineStyle:{color:'#444', width:0.5}}},
  // C top
  {type:'bar', name:'Metastatic|1', xAxisIndex:1, yAxisIndex:1, data:cCeacamMetastatic, itemStyle:{color:COL.met}, barGap:'0%', barCategoryGap:'20%'},
  {type:'bar', name:'Primary|1', xAxisIndex:1, yAxisIndex:1, data:cCeacamPrimary, itemStyle:{color:COL.pri}},
  {type:'bar', name:'Control|1', xAxisIndex:1, yAxisIndex:1, data:cCeacamControl, itemStyle:{color:COL.ctl}},
  // C bottom
  {type:'bar', name:'Metastatic|2', xAxisIndex:2, yAxisIndex:2, data:cDpepMetastatic, itemStyle:{color:COL.met}, barGap:'0%', barCategoryGap:'20%'},
  {type:'bar', name:'Primary|2', xAxisIndex:2, yAxisIndex:2, data:cDpepPrimary, itemStyle:{color:COL.pri}},
  {type:'bar', name:'Control|2', xAxisIndex:2, yAxisIndex:2, data:cDpepControl, itemStyle:{color:COL.ctl}},
  // D top
  boxSeries('Tumor|D1', 3, dCeacamTumor, -0.2, 0.6, COL.dT, COL.edge),
  boxSeries('Control|D1', 3, dCeacamControl, 0.2, 0.6, COL.dC, COL.edge),
  sigSeries(3, dCeacamTumor, dCeacamControl, dCeacamSig, dCeacamSigColor),
  // D bottom
  boxSeries('Tumor|D2', 4, dDpepTumor, -0.2, 0.6, COL.dT, COL.edge),
  boxSeries('Control|D2', 4, dDpepControl, 0.2, 0.6, COL.dC, COL.edge),
  sigSeries(4, dDpepTumor, dDpepControl, dDpepSig, dDpepSigColor),
  // E top
  boxSeries('E1', 5, eCeacam, 0, 0.85, palE, COL.edge),
  sigSeries(5, eCeacam, null, eCeacamSig, eCeacamSig.map(s=>'r')),
  {type:'line', name:'E1line', xAxisIndex:5, yAxisIndex:5, data:[], markLine:{silent:true, symbol:'none', label:{show:false},
    lineStyle:{color:'#d62728', type:'dashed', width:0.7}, data:[{xAxis:'COAD Tumor'},{yAxis:eCeacamThreshold}]}},
  // E bottom
  boxSeries('E2', 6, eDpep, 0, 0.85, palE, COL.edge),
  sigSeries(6, eDpep, null, eDpepSig, eDpepSigColor),
  {type:'line', name:'E2line', xAxisIndex:6, yAxisIndex:6, data:[], markLine:{silent:true, symbol:'none', label:{show:false},
    lineStyle:{color:'#d62728', type:'dashed', width:0.7}, data:[{xAxis:'COAD Tumor'},{yAxis:eDpepThreshold}]}},
  // F box
  boxSeries('F1', 7, fS100p, 0, 0.85, palF, COL.edge),
  // F scatter
  {type:'scatter', name:'Tumor|F', xAxisIndex:8, yAxisIndex:8, symbolSize:3.3, itemStyle:{color:COL.fT}, data:scatterTumor, z:3},
  {type:'scatter', name:'Control|F', xAxisIndex:8, yAxisIndex:8, symbolSize:3, itemStyle:{color:COL.fC}, data:scatterControl, z:2},
  // G
  {type:'bar', name:'Bowel', xAxisIndex:9, yAxisIndex:9, data:cellCeacam6, itemStyle:{color:COL.bar}, barCategoryGap:'19%'}
];

const fmt = n => n.split('|')[0];
const legends = [
  {left:240, top:38, orient:'vertical', itemWidth:3.5, itemHeight:3.5, itemGap:4.5, icon:'circle', formatter:fmt,
    textStyle:{fontSize:4.5, color:'#555', fontFamily:PF}, data:['Above threshold','Below threshold'], selectedMode:false},
  {left:692, top:53, orient:'vertical', itemWidth:6, itemHeight:6, itemGap:4.6, icon:'rect', formatter:fmt,
    textStyle:{fontSize:5.8, color:'#555', fontFamily:PF}, data:['Metastatic|1','Primary|1','Control|1'], selectedMode:false},
  {left:695, top:263, orient:'vertical', itemWidth:6, itemHeight:6, itemGap:4.6, icon:'rect', formatter:fmt,
    textStyle:{fontSize:5.8, color:'#555', fontFamily:PF}, data:['Metastatic|2','Primary|2','Control|2'], selectedMode:false},
  {left:280, top:298, orient:'vertical', itemWidth:11, itemHeight:5, itemGap:3.5, icon:'rect', formatter:fmt, padding:[11,5,3,4],
    backgroundColor:'rgba(255,255,255,0.85)', borderColor:'#cfcfcf', borderWidth:0.6, borderRadius:2,
    textStyle:{fontSize:5.5, color:'#222', fontFamily:SF}, data:['Tumor|D1','Control|D1'], selectedMode:false},
  {left:283, top:497, orient:'vertical', itemWidth:11, itemHeight:5, itemGap:3.5, icon:'rect', formatter:fmt, padding:[11,5,3,4],
    backgroundColor:'rgba(255,255,255,0.85)', borderColor:'#cfcfcf', borderWidth:0.6, borderRadius:2,
    textStyle:{fontSize:5.5, color:'#222', fontFamily:SF}, data:['Tumor|D2','Control|D2'], selectedMode:false},
  {left:332, top:935, orient:'vertical', itemWidth:3, itemHeight:3, itemGap:4, icon:'circle', formatter:fmt,
    textStyle:{fontSize:4.5, color:'#555', fontFamily:PF}, data:['Tumor|F','Control|F'], selectedMode:false},
  {left:700, top:934, orient:'vertical', itemWidth:5, itemHeight:5, itemGap:4, icon:'rect',
    textStyle:{fontSize:4.6, color:'#555', fontFamily:PF}, data:['Bowel'], selectedMode:false}
];

const chart = echarts.init(document.getElementById('chart'), null, {renderer:'canvas'});
chart.setOption({
  animation:false, backgroundColor:'#fff',
  grid:grids, xAxis:xAxes, yAxis:yAxes, series:series, legend:legends, graphic:graphic
});
</script></body></html>
